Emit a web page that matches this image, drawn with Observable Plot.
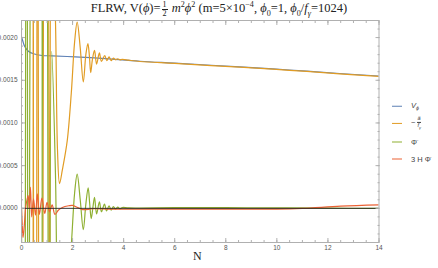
<!DOCTYPE html>
<html><head><meta charset="utf-8">
<script src="https://cdn.jsdelivr.net/npm/d3@7"></script>
<script src="https://cdn.jsdelivr.net/npm/@observablehq/plot@0.6"></script>
<style>
body{margin:0;background:#fff;}
#wrap{position:relative;width:438px;height:268px;overflow:hidden;}
#chart{position:absolute;left:0;top:0;}
#title{position:absolute;left:0;top:0px;width:438px;text-align:center;font-family:"Liberation Serif",serif;font-size:12.5px;color:#222;white-space:nowrap;}
#title i{font-style:italic;}
.frac{display:inline-flex;flex-direction:column;vertical-align:middle;font-size:0.65em;line-height:1;text-align:center;margin:0 1px;}
.frac .num{border-bottom:0.6px solid #222;padding:0 1px;}
#xlabel{position:absolute;left:193px;top:249px;font-family:"Liberation Serif",serif;font-size:12px;color:#222;}
.leg{position:absolute;left:392px;font-family:"Liberation Sans",sans-serif;font-size:7.5px;color:#444;display:flex;align-items:center;transform:translateY(-50%);white-space:nowrap;}
.sw{width:10px;height:1.3px;margin-right:9px;}
.lf{display:inline-flex;flex-direction:column;vertical-align:middle;font-size:0.75em;line-height:1.05;text-align:center;margin-left:2px;}
.lf .num{border-bottom:0.5px solid #444;}
</style></head>
<body>
<div id="wrap">
<div id="chart"></div>
<div id="title">FLRW, V(<i>ϕ</i>)=<span class="frac"><span class="num">1</span><span>2</span></span> <i>m</i><sup style="font-size:0.65em">2</sup><i>ϕ</i><sup style="font-size:0.65em">2</sup> (m=5×10<sup style="font-size:0.65em">−4</sup>, <i>ϕ</i><sub style="font-size:0.65em">0</sub>=1, <i>ϕ</i><sub style="font-size:0.65em">0</sub>/<i>f</i><sub style="font-size:0.65em"><i>γ</i></sub>=1024)</div>
<div id="xlabel">N</div>
<div id="legend"></div>
</div>
<script>
// series: [N, value]
const vphi = [
[0.00,0.00201],[0.05,0.00196],[0.12,0.00190],[0.27,0.00184],[0.47,0.00181],[0.80,0.00179],
[1.20,0.001786],[2.10,0.001774],[3.00,0.00176],[4.64,0.001723],[6.00,0.00170],[8.55,0.001656],
[10.5,0.00162],[12.46,0.001579],[14.0,0.00155]
];
const aTerm = [
[0.00,-0.0060],[0.25,-0.0090],[0.40,-0.0070],[0.45,0.0080],[0.50,-0.0070],[0.55,-0.0090],
[0.63,0.0070],[0.72,-0.0070],[0.80,-0.0090],[0.89,0.0070],[1.00,0.0090],[1.05,0.0060],
[1.10,-0.0040],[1.18,0.0036],[1.33,0.0022],[1.41,0.00068],
[1.49,0.00029],[1.60,0.00045],[1.79,0.00079],[1.95,0.00135],[2.08,0.00195],[2.18,0.00218],
[2.30,0.00188],[2.42,0.00148],[2.52,0.00180],[2.60,0.00193],[2.66,0.00178],[2.71,0.00159],
[2.78,0.00175],[2.86,0.00185],[2.94,0.00169],[3.05,0.00182],[3.13,0.00172],[3.26,0.00179],
[3.34,0.00173],[3.43,0.001775],[3.51,0.00173],[3.60,0.00176],[3.68,0.00174],[3.77,0.001752],
[3.85,0.00174],[3.95,0.001745],[4.20,0.001735],[4.64,0.00172],[6.00,0.001697],[8.55,0.001653],
[10.5,0.001617],[12.46,0.001576],[14.0,0.001546]
];
const phiDD = [
[0.00,0.0000],[0.10,-0.0060],[0.20,0.0070],[0.28,-0.0070],[0.40,0.0080],[0.58,0.0110],
[0.76,0.0080],[0.80,-0.0070],[0.86,0.0080],[0.95,0.0100],[1.00,0.0060],[1.08,-0.0050],
[1.18,0.00184],
[1.33,0.0004],[1.41,-0.0011],[1.50,-0.0015],[1.62,-0.0014],[1.79,-0.0010],[1.95,-0.00043],
[2.08,0.00018],[2.18,0.00040],[2.30,0.00010],[2.42,-0.00025],[2.52,0.00005],[2.61,0.00024],
[2.67,0.00006],[2.73,-0.00012],[2.80,0.00002],[2.86,0.00013],[2.94,-0.000065],[3.05,0.000075],
[3.13,-0.00004],[3.25,0.00005],[3.33,-0.00003],[3.43,0.00003],[3.51,-0.00002],[3.60,0.00002],
[3.68,-0.00001],[3.77,0.000015],[3.85,-0.000005],[3.95,0.00001],[4.20,0.000005],[6.00,0.000008],
[8.00,0.000008],[10.0,0.000005],[12.0,0.000002],[14.0,0.0]
];
const hubble = [
[0.00,0.0000],[0.03,-0.00020],[0.06,-0.00034],[0.11,-0.00020],[0.16,0.00000],[0.26,0.00015],
[0.30,0.00000],[0.35,0.00025],[0.40,-0.00010],[0.47,0.00011],[0.55,-0.00008],[0.62,0.00017],
[0.70,-0.00007],[0.80,0.00012],[0.91,-0.00006],[1.00,0.00007],[1.10,-0.00004],[1.20,0.00004],
[1.31,-0.00007],[1.45,-0.00002],[1.60,0.00001],[1.85,0.00003],[2.00,0.000035],[2.20,0.00001],
[2.40,-0.000015],[2.80,-0.000005],[3.50,-0.00001],[5.00,-0.00001],[8.00,-0.00001],[10.0,-0.000008],
[11.0,0.0],[12.5,0.000025],[14.0,0.00004]
];
const seriesColors = ["#5E81B5","#E19C24","#8FB032","#EB6235"];
const xMajor = [0,2,4,6,8,10,12,14];
const xMinor = d3.range(0,14.001,0.5);
const yMajor = [0,0.0005,0.0010,0.0015,0.0020];
const yMinor = d3.range(-4,22.5,1).map(d=>d/10000);

const series = [vphi,aTerm,phiDD,hubble];
const gray = "#b0b0b0";
const lineMarks = series.map((s,i)=>Plot.line(s,{x:d=>d[0],y:d=>d[1],stroke:seriesColors[i],strokeWidth:1.2,curve:"catmull-rom",clip:true}));
const tk = (fn, ticks, anchor, size) => fn(ticks,{anchor,tickSize:size,stroke:gray,fill:"none",label:null});
const chart = Plot.plot({
  width:438,height:268,marginLeft:21,marginRight:59.5,marginTop:20,marginBottom:26,
  x:{domain:[0,14],axis:null},
  y:{domain:[-0.0004,0.0022],axis:null},
  style:{fontFamily:"Liberation Sans, sans-serif",fontSize:"6.5px",color:"#555",background:"white"},
  marks:[
    ...lineMarks,
    Plot.ruleY([0],{stroke:"#222",strokeWidth:0.9}),
    Plot.frame({stroke:gray}),
    tk(Plot.axisX,xMinor,"bottom",-2),
    tk(Plot.axisX,xMajor,"bottom",-4),
    Plot.axisX(xMajor,{anchor:"bottom",tickSize:0,tickPadding:3,fill:"#555",label:null}),
    tk(Plot.axisX,xMinor,"top",-2),
    tk(Plot.axisX,xMajor,"top",-4),
    tk(Plot.axisY,yMinor,"left",-2),
    tk(Plot.axisY,yMajor,"left",-4),
    Plot.axisY(yMajor,{anchor:"left",tickSize:0,tickPadding:4,fill:"#555",label:null,tickFormat:d3.format(".4f")}),
    tk(Plot.axisY,yMinor,"right",-2),
    tk(Plot.axisY,yMajor,"right",-4)
  ]
});
document.getElementById("chart").appendChild(chart);

const legendLabels = [
  '<i>V</i><sub style="font-size:0.7em"><i>ϕ</i></sub>',
  '−<span class="lf"><span class="num"><i>ä</i></span><span><i>f</i><sub style="font-size:0.7em"><i>γ</i></sub></span></span>',
  'Φ̈',
  '3 H Φ̇'
];
const legendY = [106.3,123.3,141.7,159.3];
const lg = document.getElementById("legend");
legendLabels.forEach((lab,i)=>{
  const d=document.createElement("div");
  d.className="leg"; d.style.top=legendY[i]+"px";
  d.innerHTML='<span class="sw" style="background:'+seriesColors[i]+'"></span><span>'+lab+'</span>';
  lg.appendChild(d);
});
</script>
</body></html>
